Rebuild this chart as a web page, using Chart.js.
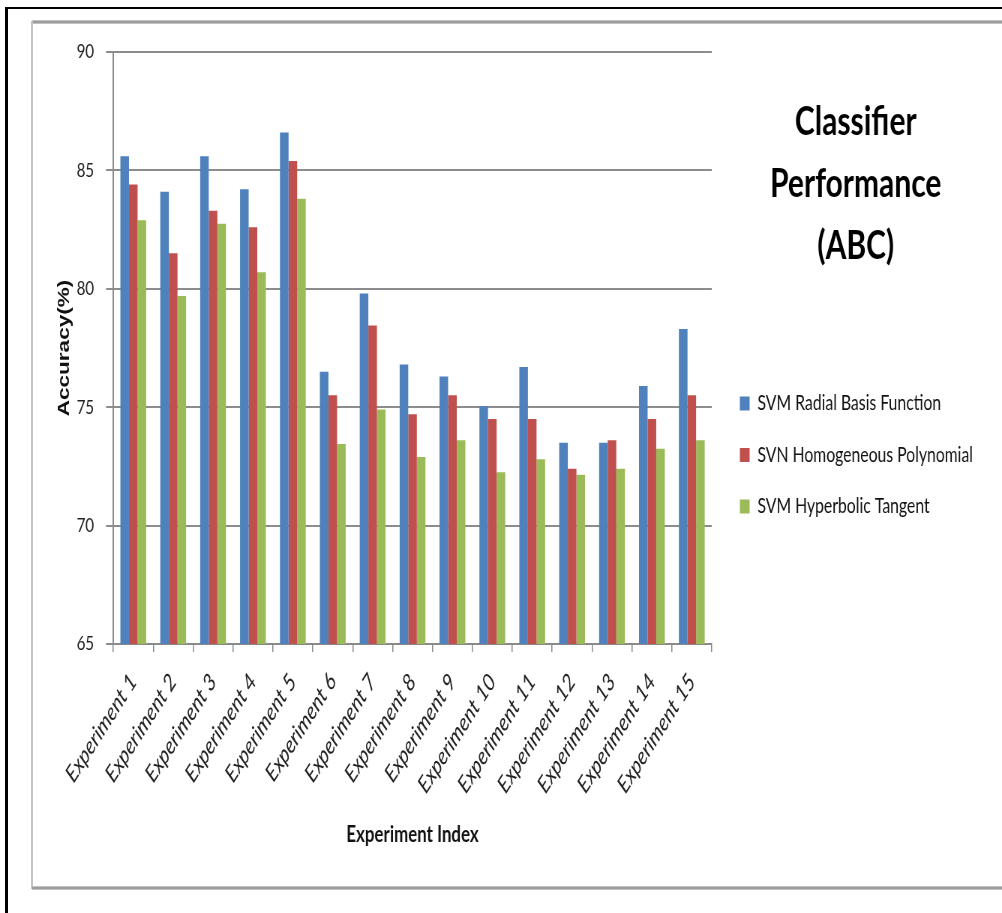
<!DOCTYPE html>
<html>
<head>
<meta charset="utf-8">
<title>Classifier Performance (ABC)</title>
<script src="https://cdn.jsdelivr.net/npm/chart.js@4.4.1/dist/chart.umd.min.js"></script>
<style>
  html, body { margin: 0; padding: 0; background: #fff; width: 1002px; height: 913px; overflow: hidden; }
  .edge { position: absolute; }
  #outerTop  { left: 5px; top: 7px; width: 997px; height: 2px; background: #000; }
  #outerLeft { left: 5px; top: 7px; width: 3px; height: 906px; background: #000; }
  #boxTop    { left: 32px; top: 20px; width: 970px; height: 4px; background: linear-gradient(#d4d4d4, #8a8a8a, #d4d4d4); }
  #boxLeft   { left: 31px; top: 21px; width: 2px; height: 868px; background: #c4c4c4; }
  #boxBottom { left: 32px; top: 886px; width: 970px; height: 4px; background: linear-gradient(#d4d4d4, #8a8a8a, #d4d4d4); }
  /* the chart is laid out on a wider stage and narrowed horizontally */
  #stage { position: absolute; left: 0; top: 0; width: 1336px; height: 913px; transform: scaleX(0.75); transform-origin: 0 0; }
</style>
</head>
<body>
<div class="edge" id="outerTop"></div>
<div class="edge" id="outerLeft"></div>
<div class="edge" id="boxTop"></div>
<div class="edge" id="boxLeft"></div>
<div class="edge" id="boxBottom"></div>
<div id="stage"><canvas id="chart" width="1336" height="913"></canvas></div>
<script>
// Experiments and accuracy (%) for each SVM kernel
const experiments = [
  'Experiment 1', 'Experiment 2', 'Experiment 3', 'Experiment 4', 'Experiment 5',
  'Experiment 6', 'Experiment 7', 'Experiment 8', 'Experiment 9', 'Experiment 10',
  'Experiment 11', 'Experiment 12', 'Experiment 13', 'Experiment 14', 'Experiment 15'
];
const seriesNames = ['SVM Radial Basis Function', 'SVN Homogeneous Polynomial', 'SVM Hyperbolic Tangent'];
const radialBasis = [85.6, 84.1, 85.6, 84.2, 86.6, 76.5, 79.8, 76.8, 76.3, 75.05, 76.7, 73.5, 73.5, 75.9, 78.3];
const homogeneousPoly = [84.4, 81.5, 83.3, 82.6, 85.4, 75.5, 78.45, 74.7, 75.5, 74.5, 74.5, 72.4, 73.6, 74.5, 75.5];
const hyperbolicTangent = [82.9, 79.7, 82.75, 80.7, 83.8, 73.45, 74.9, 72.9, 73.6, 72.25, 72.8, 72.15, 72.4, 73.25, 73.6];
const yTicks = [65, 70, 75, 80, 85, 90];
const titleLines = ['Classifier', 'Performance', '(ABC)'];

const seriesColors = ['#4F81BD', '#C0504D', '#9BBB59'];
const seriesValues = [radialBasis, homogeneousPoly, hyperbolicTangent];

// Layout constants (stage pixels)
const STAGE_W = 1336;
const LEGEND_FONT = 21;
const LEGEND_PAD = 30.5;
const LEGEND_BOX_W = 13;
const LEGEND_LEFT = 956;
const PLOT_RIGHT = 949;

// right padding so that the legend block starts at LEGEND_LEFT
const measureCtx = document.createElement('canvas').getContext('2d');
measureCtx.font = LEGEND_FONT + 'px Lato';
const legendTextW = Math.max(...seriesNames.map(n => measureCtx.measureText(n).width));
const legendW = LEGEND_PAD + LEGEND_BOX_W + LEGEND_FONT / 2 + legendTextW + 10;
const padRight = STAGE_W - LEGEND_LEFT - legendW;

// Three-line heading drawn to the right of the plot, above the legend
const headingPlugin = {
  id: 'heading',
  afterDraw(chart) {
    const ctx = chart.ctx;
    ctx.save();
    ctx.font = 'bold 40px Lato';
    ctx.fillStyle = '#000';
    ctx.textAlign = 'center';
    ctx.textBaseline = 'middle';
    titleLines.forEach((line, i) => ctx.fillText(line, 1141, 122 + i * 62));
    ctx.restore();
  }
};

new Chart(document.getElementById('chart'), {
  type: 'bar',
  data: {
    labels: experiments,
    datasets: seriesNames.map((name, i) => ({
      label: name,
      data: seriesValues[i],
      backgroundColor: seriesColors[i],
      borderWidth: 0,
      categoryPercentage: 0.647,
      barPercentage: 1.0
    }))
  },
  options: {
    responsive: false,
    animation: false,
    devicePixelRatio: 1,
    layout: { padding: { top: 52, bottom: 55, left: 50, right: padRight } },
    plugins: {
      legend: {
        position: 'right',
        align: 'center',
        maxWidth: 600,
        labels: {
          boxWidth: LEGEND_BOX_W,
          boxHeight: 14,
          padding: LEGEND_PAD,
          color: '#111',
          font: { family: 'Lato', size: LEGEND_FONT }
        }
      },
      tooltip: { enabled: false }
    },
    scales: {
      x: {
        grid: { display: true, drawOnChartArea: false, drawTicks: true, tickLength: 8, color: '#8a8a8a', lineWidth: 1.5, offset: true },
        border: { display: true, color: '#8a8a8a', width: 2 },
        ticks: {
          autoSkip: false, minRotation: 50, maxRotation: 50, padding: 16,
          color: '#222', font: { family: 'Lato', style: 'italic', size: 24 }
        },
        title: {
          display: true, text: 'Experiment Index', color: '#111',
          font: { family: 'Lato', weight: 'bold', size: 22.5 },
          padding: { top: 0, bottom: 9.5 }
        },
        afterFit(scale) { scale.height = 214; }
      },
      y: {
        min: yTicks[0],
        max: yTicks[yTicks.length - 1],
        afterBuildTicks(scale) { scale.ticks = yTicks.map(v => ({ value: v })); },
        grid: { color: '#8c8c8c', lineWidth: 2, tickLength: 9.7 },
        border: { color: '#8c8c8c', width: 2 },
        ticks: { padding: 16, color: '#222', font: { family: 'Lato', size: 20 } },
        title: {
          display: true, text: 'Accuracy(%)', color: '#111',
          font: { family: 'Liberation Sans', weight: 'bold', size: 22.5 },
          padding: { top: 21.8, bottom: 0 }
        },
        afterFit(scale) { scale.width = 101.1; }
      },
      gap: {
        type: 'linear',
        position: 'right',
        display: true,
        grid: { display: false, drawTicks: false },
        border: { display: false },
        ticks: { display: false },
        afterFit(scale) { scale.width = LEGEND_LEFT - PLOT_RIGHT; }
      }
    }
  },
  plugins: [headingPlugin]
});
</script>
</body>
</html>
